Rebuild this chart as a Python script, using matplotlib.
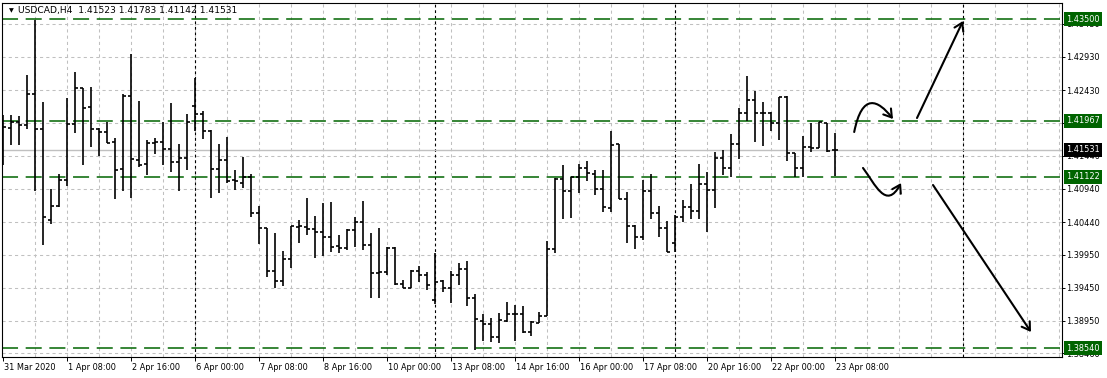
import numpy as np
import matplotlib.pyplot as plt
import matplotlib.transforms as mtransforms
from matplotlib.path import Path
from matplotlib.patches import FancyArrowPatch

# USDCAD H4 bars, 31 Mar 2020 00:00 .. 23 Apr 2020 08:00
opens = [1.41950, 1.41855, 1.41946, 1.41905, 1.42377, 1.41840, 1.40473, 1.40688, 1.41076, 1.41915,
         1.42463, 1.42172, 1.41840, 1.41795, 1.41644, 1.41237, 1.42342, 1.41373, 1.41312, 1.41629,
         1.41644, 1.41539, 1.41352, 1.41403, 1.42191, 1.42075, 1.41810, 1.41237, 1.41377, 1.41071,
         1.41035, 1.41116, 1.40574, 1.40347, 1.39704, 1.39553, 1.39880, 1.40372, 1.40372, 1.40332,
         1.40287, 1.40212, 1.40085, 1.40046, 1.40322, 1.40438, 1.40096, 1.39669, 1.39684, 1.40055,
         1.39503, 1.39452, 1.39704, 1.39643, 1.39267, 1.39553, 1.39443, 1.39643, 1.39729, 1.39292,
         1.38950, 1.38905, 1.38704, 1.38950, 1.39051, 1.39051, 1.38780, 1.38924, 1.39030, 1.40035,
         1.41086, 1.40914, 1.41116, 1.41252, 1.41162, 1.40935, 1.40649, 1.41614, 1.40785, 1.40382,
         1.40212, 1.40914, 1.40574, 1.40347, 1.40121, 1.40522, 1.40664, 1.40608, 1.41015, 1.40925,
         1.41412, 1.41261, 1.41614, 1.42081, 1.42282, 1.42081, 1.42090, 1.41940, 1.42322, 1.41478,
         1.41252, 1.41578, 1.41554, 1.41940, 1.41523]
highs = [1.42056, 1.42056, 1.42041, 1.42659, 1.43488, 1.42247, 1.40940, 1.41166, 1.42312, 1.42699,
         1.42463, 1.42478, 1.41859, 1.41955, 1.41704, 1.42368, 1.42971, 1.42267, 1.41679, 1.41713,
         1.41955, 1.42232, 1.41618, 1.42071, 1.42609, 1.42116, 1.41829, 1.41618, 1.41728, 1.41226,
         1.41427, 1.41166, 1.40684, 1.40347, 1.40281, 1.40005, 1.40382, 1.40473, 1.40800, 1.40533,
         1.40724, 1.40749, 1.40246, 1.40332, 1.40522, 1.40759, 1.40272, 1.40347, 1.40061, 1.40061,
         1.39568, 1.39719, 1.39784, 1.39693, 1.39980, 1.39568, 1.39708, 1.39829, 1.39855, 1.39357,
         1.39055, 1.38991, 1.39066, 1.39232, 1.39191, 1.39176, 1.38954, 1.39090, 1.40156, 1.41101,
         1.41302, 1.41125, 1.41317, 1.41362, 1.41226, 1.41226, 1.41814, 1.41618, 1.40899, 1.40397,
         1.41076, 1.41162, 1.40684, 1.40458, 1.40548, 1.40774, 1.41015, 1.41317, 1.41192, 1.41502,
         1.41528, 1.41769, 1.42157, 1.42644, 1.42422, 1.42247, 1.42105, 1.42322, 1.42342, 1.41487,
         1.41739, 1.41940, 1.41955, 1.41940, 1.41783]
lows = [1.41302, 1.41603, 1.41603, 1.41845, 1.40910, 1.40096, 1.40412, 1.40673, 1.40990, 1.41789,
        1.41302, 1.41578, 1.41437, 1.41629, 1.40785, 1.40914, 1.40800, 1.41276, 1.41151, 1.41463,
        1.41302, 1.41201, 1.40914, 1.41226, 1.41819, 1.41694, 1.40809, 1.40875, 1.41035, 1.40925,
        1.40951, 1.40522, 1.40106, 1.39618, 1.39443, 1.39478, 1.39744, 1.40130, 1.40246, 1.39895,
        1.39930, 1.39995, 1.39980, 1.40020, 1.40070, 1.40020, 1.39292, 1.39292, 1.39643, 1.39493,
        1.39443, 1.39443, 1.39542, 1.39417, 1.39206, 1.39392, 1.39217, 1.39493, 1.39181, 1.38520,
        1.38653, 1.38629, 1.38614, 1.38939, 1.38653, 1.38765, 1.38724, 1.38915, 1.39025, 1.39980,
        1.40488, 1.40507, 1.40884, 1.41065, 1.40850, 1.40598, 1.40598, 1.40785, 1.40130, 1.40031,
        1.40171, 1.40483, 1.40212, 1.39986, 1.39990, 1.40447, 1.40483, 1.40483, 1.40296, 1.40649,
        1.41151, 1.41116, 1.41392, 1.41965, 1.41653, 1.41593, 1.41819, 1.41679, 1.41367, 1.41116,
        1.41116, 1.41502, 1.41554, 1.41502, 1.41142]
closes = [1.41870, 1.41946, 1.41905, 1.42368, 1.41840, 1.40513, 1.40688, 1.41076, 1.41915, 1.42463,
          1.42157, 1.41840, 1.41795, 1.41638, 1.41222, 1.42342, 1.41388, 1.41302, 1.41629, 1.41644,
          1.41539, 1.41343, 1.41403, 1.41955, 1.42075, 1.41810, 1.41237, 1.41377, 1.41061, 1.41061,
          1.41116, 1.40574, 1.40347, 1.39704, 1.39553, 1.39880, 1.40382, 1.40382, 1.40332, 1.40287,
          1.40212, 1.40070, 1.40046, 1.40322, 1.40438, 1.40096, 1.39669, 1.39684, 1.40055, 1.39503,
          1.39452, 1.39704, 1.39643, 1.39493, 1.39542, 1.39443, 1.39643, 1.39729, 1.39292, 1.38976,
          1.38905, 1.38704, 1.38965, 1.39051, 1.39051, 1.38780, 1.38939, 1.39030, 1.40035, 1.41086,
          1.40914, 1.41116, 1.41252, 1.41186, 1.40935, 1.40664, 1.41603, 1.40785, 1.40382, 1.40212,
          1.40914, 1.40574, 1.40347, 1.39986, 1.40522, 1.40664, 1.40608, 1.41015, 1.40925, 1.41412,
          1.41261, 1.41614, 1.42081, 1.42282, 1.42081, 1.42081, 1.41940, 1.42322, 1.41478, 1.41252,
          1.41578, 1.41554, 1.41955, 1.41512, 1.41531]

xtick_labels = ["31 Mar 2020", "1 Apr 08:00", "2 Apr 16:00", "6 Apr 00:00", "7 Apr 08:00",
                "8 Apr 16:00", "10 Apr 00:00", "13 Apr 08:00", "14 Apr 16:00", "16 Apr 00:00",
                "17 Apr 08:00", "20 Apr 16:00", "22 Apr 00:00", "23 Apr 08:00"]
grid_levels = [1.43430, 1.42930, 1.42430, 1.41935, 1.41440, 1.40940,
               1.40440, 1.39950, 1.39450, 1.38950, 1.38460]
level_lines = [1.43500, 1.41967, 1.41122, 1.38540]
bid = 1.41531
separators = [24, 54, 84, 120]

# hand drawn arrows (bar index, price)
curve_up = [(106.4, 1.41799), (107.4, 1.42402), (109.4, 1.42282), (111.25, 1.41995)]
curve_down = [(107.5, 1.41257), (109.0, 1.41016), (110.4, 1.40610), (112.25, 1.41030)]
line_up = [(114.25, 1.42010), (120.0, 1.43473)]
line_down = [(116.25, 1.41000), (128.5, 1.38784)]

green = "#006400"
gray = "#c0c0c0"

fig = plt.figure(figsize=(11.07, 3.78), dpi=100)
ax = fig.add_axes([2 / 1107, 21 / 378, 1060 / 1107, 354 / 378])
ax.set_xlim(-0.125, 132.375)
ax.set_ylim(1.38407, 1.43744)

# grid
for b in range(4, 133, 4):
    ax.axvline(b, color=gray, lw=0.75, ls=(0, (3, 3)), zorder=0)
for lvl in grid_levels:
    ax.axhline(lvl, color=gray, lw=0.75, ls=(0, (3, 3)), zorder=0)
for s in separators:
    ax.axvline(s, color="black", lw=0.8, ls=(0, (2.5, 2.5)), zorder=1)

for lvl in level_lines:
    ax.axhline(lvl, color=green, lw=1.1, ls=(0, (10.5, 5)), zorder=1)
ax.axhline(bid, color=gray, lw=1.0, zorder=1)

# OHLC bars
idx = np.arange(len(opens))
ax.vlines(idx, lows, highs, color="black", lw=1.2, zorder=3)
ax.hlines(opens, idx - 0.4, idx, color="black", lw=1.2, zorder=3)
ax.hlines(closes, idx, idx + 0.4, color="black", lw=1.2, zorder=3)

# arrows
for pts in (curve_up, curve_down):
    path = Path(pts, [Path.MOVETO, Path.CURVE4, Path.CURVE4, Path.CURVE4])
    ax.add_patch(FancyArrowPatch(path=path, arrowstyle="->,head_length=0.55,head_width=0.35",
                                 mutation_scale=10, lw=1.5, color="black", zorder=4))
for pts in (line_up, line_down):
    ax.annotate("", xy=pts[1], xytext=pts[0],
                arrowprops=dict(arrowstyle="->,head_length=0.55,head_width=0.35", mutation_scale=10,
                                lw=1.5, color="black", shrinkA=0, shrinkB=0), zorder=4)

# axes look
for sp in ax.spines.values():
    sp.set_color("black")
    sp.set_linewidth(0.8)

ax.set_xticks(idx[::8], xtick_labels)
ax.tick_params(axis="x", length=3, width=0.7, pad=1, labelsize=5.9)
off = mtransforms.ScaledTranslation(1 / 100, 0, fig.dpi_scale_trans)
for lbl in ax.get_xticklabels():
    lbl.set_horizontalalignment("left")
    lbl.set_transform(lbl.get_transform() + off)

ax.yaxis.tick_right()
ax.set_yticks(grid_levels, [f"{v:.5f}" for v in grid_levels])
ax.tick_params(axis="y", length=2.2, width=0.7, pad=0.8, labelsize=5.9)

ytr = mtransforms.blended_transform_factory(ax.transAxes, ax.transData)
for lvl in level_lines:
    ax.text(1.0038, lvl, f"{lvl:.5f}", transform=ytr, fontsize=5.9, color="white",
            va="center", ha="left", clip_on=False, zorder=6,
            bbox=dict(boxstyle="square,pad=0.28", facecolor=green, edgecolor="none"))
ax.text(1.0038, bid, f"{bid:.5f}", transform=ytr, fontsize=5.9, color="white",
        va="center", ha="left", clip_on=False, zorder=6,
        bbox=dict(boxstyle="square,pad=0.28", facecolor="black", edgecolor="none"))

# header
ax.text(0.0063, 0.979, "\u25bc", transform=ax.transAxes, fontsize=4.5, va="center", ha="left", zorder=6)
ax.text(0.0151, 0.979, "USDCAD,H4  %.5f %.5f %.5f %.5f" % (opens[-1], highs[-1], lows[-1], closes[-1]),
        transform=ax.transAxes, fontsize=6.6, va="center", ha="left", zorder=6)

plt.savefig("out.png", dpi=100)
